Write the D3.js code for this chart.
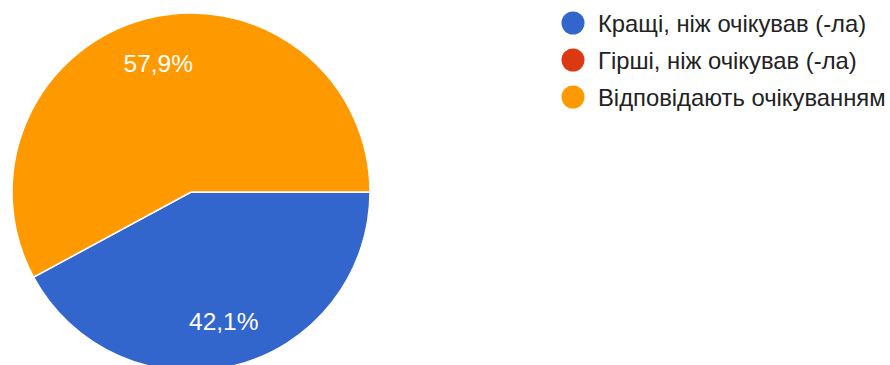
<!DOCTYPE html>
<html>
<head>
<meta charset="utf-8">
<script src="https://cdn.jsdelivr.net/npm/d3@7"></script>
<style>
  body { margin: 0; background: #fff; }
  text { font-family: "Liberation Sans", Arial, sans-serif; }
</style>
</head>
<body>
<script>
// categories and answer counts
var categories = ["Кращі, ніж очікував (-ла)", "Гірші, ніж очікував (-ла)", "Відповідають очікуванням"];
var counts = [8, 0, 11];
var colors = ["#3366cc", "#dc3912", "#ff9900"];

var width = 890, height = 365;
var cx = 191, cy = 192, radius = 179;

var svg = d3.select("body").append("svg")
    .attr("width", width)
    .attr("height", height);

var data = categories.map(function(c, i) {
  return {name: c, value: counts[i], color: colors[i]};
});
var total = d3.sum(counts);

// pie starts at 3 o'clock and goes clockwise
var pie = d3.pie()
    .sort(null)
    .value(function(d) { return d.value; })
    .startAngle(Math.PI / 2)
    .endAngle(Math.PI / 2 + 2 * Math.PI);

var arc = d3.arc().innerRadius(0).outerRadius(radius);
var labelArc = d3.arc().innerRadius(radius * 0.745).outerRadius(radius * 0.745);

var g = svg.append("g")
    .attr("transform", "translate(" + cx + "," + cy + ")");

var arcs = pie(data).filter(function(d) { return d.data.value > 0; });

g.selectAll("path.slice")
    .data(arcs)
  .enter().append("path")
    .attr("class", "slice")
    .attr("d", arc)
    .attr("fill", function(d) { return d.data.color; })
    .attr("stroke", "#fff")
    .attr("stroke-width", 1.5);

// percentage labels
g.selectAll("text.pct")
    .data(arcs)
  .enter().append("text")
    .attr("class", "pct")
    .attr("transform", function(d) { return "translate(" + labelArc.centroid(d) + ")"; })
    .attr("text-anchor", "middle")
    .attr("dy", "0.36em")
    .style("font-size", "24.5px")
    .style("fill", "#fff")
    .text(function(d) { return d3.format(".1f")(d.data.value / total * 100).replace(".", ",") + "%"; });

// legend
var legend = svg.selectAll("g.legend")
    .data(data)
  .enter().append("g")
    .attr("class", "legend")
    .attr("transform", function(d, i) { return "translate(573," + (23 + i * 37) + ")"; });

legend.append("circle")
    .attr("r", 11.5)
    .attr("fill", function(d) { return d.color; });

legend.append("text")
    .attr("x", 25)
    .attr("dy", "0.36em")
    .style("font-size", "23.8px")
    .style("fill", "#222")
    .text(function(d) { return d.name; });
</script>
</body>
</html>
